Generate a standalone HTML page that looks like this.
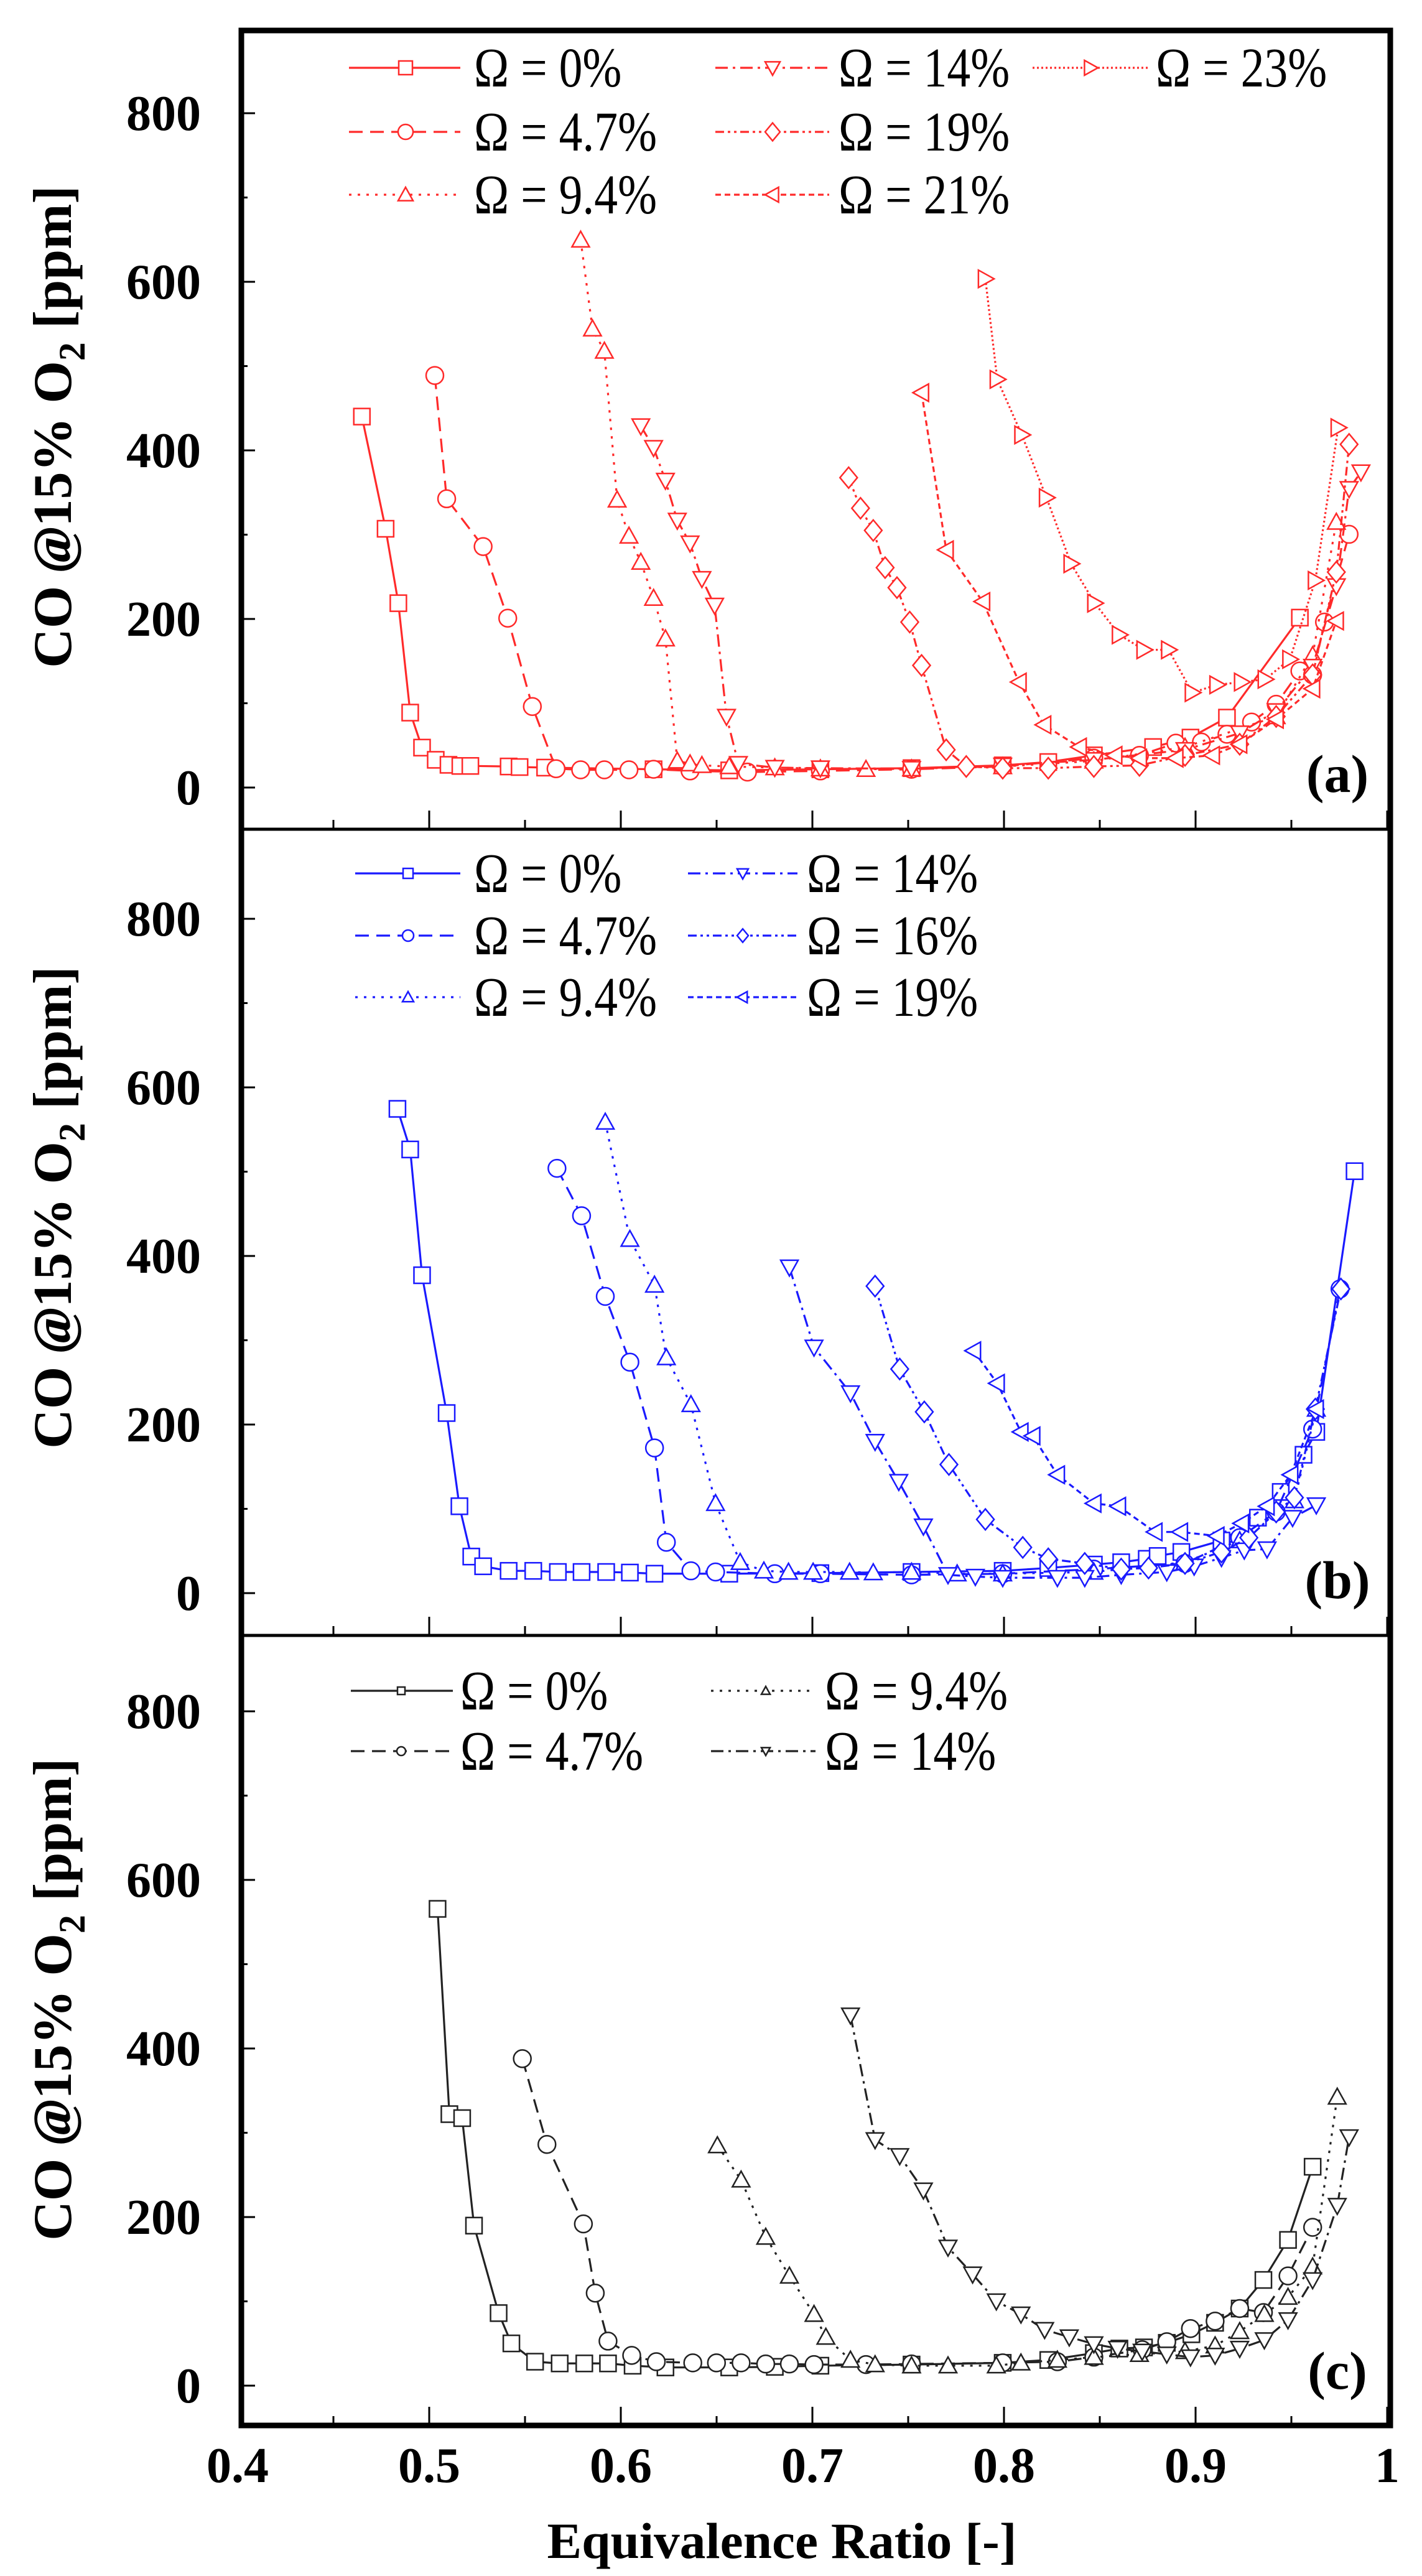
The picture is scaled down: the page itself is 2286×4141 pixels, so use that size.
<!DOCTYPE html>
<html><head><meta charset="utf-8"><style>
html,body{margin:0;padding:0;background:#fff}
svg{display:block}
svg text{font-family:"Liberation Serif","Times New Roman","Noto Serif CJK SC","DejaVu Serif",serif}
</style></head><body>
<svg id="s" xmlns="http://www.w3.org/2000/svg" width="2286" height="4141" viewBox="0 0 2286 4141">
<rect width="2286" height="4141" fill="#fff"/>
<g id="g"></g>
</svg>
<script>
var NS="http://www.w3.org/2000/svg",G=document.getElementById('g');
var FF="'Liberation Serif','Times New Roman','Noto Serif CJK SC','DejaVu Serif',serif";
function el(t,a,p){var e=document.createElementNS(NS,t);for(var k in a)e.setAttribute(k,a[k]);(p||G).appendChild(e);return e;}
function txt(x,y,s,a){var e=el('text',Object.assign({x:x,y:y},a||{}));e.style.fontFamily=FF;e.textContent=s;return e;}
var L=388,R=2235;
function X(phi){return 382+(phi-0.4)*3080;}
var panels=[{top:49,bot:1333,y0:1266,fy:1.12,off:0},{top:1333,bot:2629,y0:2561,fy:1.088,off:1300},{top:2629,bot:3899,y0:3835,fy:1.088,off:2700}];
var S=1.355;
panels.forEach(function(p,i){
  for(var v=0;v<=800;v+=100){var y=p.y0-v*S;if(y<p.top+5)continue;
    el('line',{x1:L,x2:L+(v%200==0?22:10),y1:y,y2:y,stroke:'#000','stroke-width':3});
    if(v%200==0)txt(323,y+27,String(v),{'font-size':80,'font-weight':'bold','text-anchor':'end'});}
  for(var k=0;k<=12;k++){var phi=0.4+k*0.05,x=X(phi);if(x<L+5||x>R-5)continue;
    el('line',{x1:x,x2:x,y1:p.bot,y2:p.bot-(k%2==0?30:15),stroke:'#000','stroke-width':3});}
  var cy=(p.top+p.bot)/2+(i==0?-5:i==1?-40:-50);
  var t=el('text',{transform:'translate(114,'+cy+') rotate(-90)','font-size':88,'font-weight':'bold','text-anchor':'middle'});
  t.style.fontFamily=FF;
  t.appendChild(document.createTextNode('CO '));
  var ti=el('tspan',{'font-style':'italic'},t);ti.textContent='@';
  t.appendChild(document.createTextNode('15% O'));
  var ts=el('tspan',{dy:22,'font-size':60},t);ts.textContent='2';
  var tr=el('tspan',{dy:-22},t);tr.textContent=' [ppm]';
});
[['(a)',1245],['(b)',2541],['(c)',3812]].forEach(function(a){txt(2150,a[1]+28,a[0],{'font-size':86,'font-weight':'bold','text-anchor':'middle'});});
['0.4','0.5','0.6','0.7','0.8','0.9','1'].forEach(function(s,k){txt(X(0.4+k*0.1),3990,s,{'font-size':80,'font-weight':'bold','text-anchor':'middle'});});
txt(1257,4112,'Equivalence Ratio [-]',{'font-size':82,'font-weight':'bold','text-anchor':'middle',textLength:755,lengthAdjust:'spacingAndGlyphs'});
el('rect',{x:L,y:49,width:R-L,height:3899-49,fill:'none',stroke:'#000','stroke-width':9});
el('line',{x1:L,x2:R,y1:1333,y2:1333,stroke:'#000','stroke-width':5});
el('line',{x1:L,x2:R,y1:2629,y2:2629,stroke:'#000','stroke-width':5});
function marker(type,x,y,c,r,g){
  r=r||13;g=g||G;var a={fill:'#fff',stroke:c,'stroke-width':2.5};
  if(type=='sq')return el('rect',Object.assign({x:x-r+1,y:y-r+1,width:2*r-2,height:2*r-2},a),g);
  if(type=='ci')return el('circle',Object.assign({cx:x,cy:y,r:r},a),g);
  var pts;
  if(type=='up')pts=[[x,y-r],[x+r,y+r*0.8],[x-r,y+r*0.8]];
  if(type=='dn')pts=[[x,y+r],[x+r,y-r*0.8],[x-r,y-r*0.8]];
  if(type=='di')pts=[[x,y-r*1.2],[x+r,y],[x,y+r*1.2],[x-r,y]];
  if(type=='lt')pts=[[x-r,y],[x+r*0.8,y-r],[x+r*0.8,y+r]];
  if(type=='rt')pts=[[x+r,y],[x-r*0.8,y-r],[x-r*0.8,y+r]];
  return el('polygon',Object.assign({points:pts.map(function(q){return q.join(',')}).join(' ')},a),g);
}
var D={solid:'',dash:'22 12',dot:'4 10',dd:'20 8 4 8',ddd:'14 6 4 6 4 6',sd:'9 6',fdot:'3 4'};
function series(pi,pts,type,dash,c){
  var p=panels[pi];var P=pts.map(function(q){return [q[0]*1.4654,q[1]/p.fy+p.off];});
  el('polyline',{points:P.map(function(q){return q.join(',')}).join(' '),fill:'none',stroke:c,'stroke-width':3.2,'stroke-dasharray':D[dash]});
  P.forEach(function(q){marker(type,q[0],q[1],c,14);});
}
function legend(x1,x2,xm,xt,y,type,dash,c,label,r){
  el('line',{x1:x1,x2:x2,y1:y,y2:y,stroke:c,'stroke-width':3.2,'stroke-dasharray':D[dash]});
  marker(type,xm,y,c,r||12);
  var t=el('text',{x:xt,y:y+30,'font-size':90,transform:'translate('+xt+',0) scale(0.84,1) translate('+(-xt)+',0)'});
  t.style.fontFamily=FF;
  t.textContent=label;
}
var RED='#ff2a2a',BLU='#1a1aff',BLK='#222';
series(0,[[397,750],[423,952],[437,1086],[450,1283],[463,1346],[478,1368],[492,1377],[505,1379],[516,1379],[558,1380],[570,1381],[598,1382],[717,1385],[800,1387],[900,1385],[1000,1383],[1100,1378],[1150,1372],[1200,1360],[1265,1345],[1306,1328],[1346,1292],[1426,1112]],'sq','solid',RED);
series(0,[[477,676],[490,898],[530,984],[557,1113],[584,1272],[610,1384],[637,1386],[663,1386],[690,1386],[717,1385],[757,1388],[820,1390],[900,1388],[1000,1385],[1100,1380],[1200,1365],[1250,1360],[1290,1338],[1318,1336],[1346,1322],[1373,1300],[1400,1268],[1426,1208],[1440,1215],[1453,1120],[1480,962]],'ci','dash',RED);
series(0,[[637,432],[650,592],[663,632],[677,900],[690,965],[703,1012],[717,1077],[730,1150],[743,1370],[757,1375],[770,1378],[800,1380],[850,1382],[900,1384],[950,1385],[1000,1384],[1100,1380],[1200,1370],[1300,1345],[1400,1290],[1440,1180],[1466,940]],'up','dot',RED);
series(0,[[703,767],[717,806],[730,865],[743,937],[757,978],[770,1042],[784,1090],[797,1290],[810,1375],[850,1382],[900,1383],[1000,1384],[1100,1378],[1200,1368],[1300,1350],[1360,1320],[1400,1280],[1440,1200],[1466,1055],[1480,880],[1493,850]],'dn','dd',RED);
series(0,[[931,860],[944,915],[958,955],[971,1022],[984,1058],[998,1120],[1011,1198],[1038,1350],[1060,1380],[1100,1383],[1150,1383],[1200,1380],[1250,1378],[1300,1360],[1360,1340],[1400,1290],[1440,1215],[1466,1030],[1480,800]],'di','ddd',RED);
series(0,[[1011,707],[1038,990],[1078,1083],[1118,1228],[1145,1305],[1184,1345],[1223,1360],[1250,1365],[1290,1365],[1330,1360],[1360,1340],[1400,1295],[1440,1240],[1466,1118]],'lt','sd',RED);
series(0,[[1081,502],[1094,683],[1121,783],[1148,896],[1175,1015],[1201,1086],[1228,1143],[1255,1170],[1282,1170],[1308,1247],[1335,1233],[1362,1228],[1388,1223],[1415,1187],[1443,1045],[1468,770]],'rt','fdot',RED);
legend(561,740,652,762,109,'sq','solid',RED,'Ω = 0%');
legend(561,740,652,762,212,'ci','dash',RED,'Ω = 4.7%');
legend(561,740,652,762,313,'up','dot',RED,'Ω = 9.4%');
legend(1150,1333,1242,1348,109,'dn','dd',RED,'Ω = 14%');
legend(1150,1333,1242,1348,212,'di','ddd',RED,'Ω = 19%');
legend(1150,1333,1242,1348,313,'lt','sd',RED,'Ω = 21%');
legend(1660,1846,1753,1858,109,'rt','fdot',RED,'Ω = 23%');
series(1,[[436,525],[450,596],[463,816],[490,1057],[504,1220],[517,1308],[530,1325],[558,1333],[585,1333],[612,1335],[638,1335],[665,1335],[691,1336],[718,1338],[800,1338],[900,1337],[1000,1335],[1100,1333],[1150,1328],[1200,1322],[1230,1318],[1258,1312],[1270,1307],[1296,1300],[1340,1280],[1380,1240],[1405,1195],[1430,1130],[1444,1090],[1486,634]],'sq','solid',BLU);
series(1,[[611,629],[638,712],[664,853],[691,968],[718,1118],[731,1283],[758,1333],[785,1335],[850,1338],[900,1338],[1000,1340],[1100,1338],[1200,1330],[1300,1320],[1360,1275],[1400,1230],[1440,1085],[1470,840]],'ci','dash',BLU);
series(1,[[664,548],[691,753],[718,833],[731,960],[758,1042],[785,1215],[812,1318],[838,1333],[865,1335],[892,1335],[932,1335],[958,1336],[1000,1335],[1050,1338],[1100,1338],[1200,1335],[1300,1318],[1360,1280],[1420,1210],[1444,1050]],'up','dot',BLU);
series(1,[[866,802],[893,942],[933,1022],[960,1107],[986,1177],[1013,1255],[1040,1340],[1070,1343],[1100,1345],[1160,1345],[1190,1345],[1230,1340],[1280,1335],[1310,1325],[1340,1310],[1365,1297],[1390,1295],[1418,1240],[1444,1218]],'dn','dd',BLU);
series(1,[[960,835],[987,980],[1014,1055],[1041,1147],[1081,1243],[1122,1292],[1150,1312],[1190,1320],[1230,1330],[1260,1328],[1300,1320],[1340,1300],[1370,1275],[1400,1230],[1420,1205],[1443,1050],[1471,840]],'di','ddd',BLU);
series(1,[[1068,948],[1094,1005],[1120,1090],[1133,1097],[1160,1165],[1200,1215],[1227,1220],[1267,1265],[1295,1265],[1335,1272],[1362,1250],[1390,1220],[1416,1165],[1444,1050]],'lt','sd',BLU);
legend(571,740,656,762,1404,'sq','solid',BLU,'Ω = 0%',9);
legend(571,740,656,762,1504,'ci','dash',BLU,'Ω = 4.7%',9);
legend(571,740,656,762,1603,'up','dot',BLU,'Ω = 9.4%',9);
legend(1106,1282,1194,1297,1404,'dn','dd',BLU,'Ω = 14%',9);
legend(1106,1282,1194,1297,1504,'di','ddd',BLU,'Ω = 16%',9);
legend(1106,1282,1194,1297,1603,'lt','sd',BLU,'Ω = 19%',9);
series(2,[[480,401],[493,760],[507,767],[520,955],[547,1108],[561,1161],[587,1193],[614,1196],[641,1196],[667,1196],[694,1200],[730,1203],[800,1203],[850,1202],[900,1200],[1000,1198],[1100,1195],[1150,1190],[1200,1178],[1228,1170],[1255,1168],[1280,1160],[1307,1145],[1333,1125],[1360,1100],[1386,1050],[1413,980],[1440,852]],'sq','solid',BLK);
series(2,[[573,663],[600,813],[640,952],[653,1073],[667,1157],[693,1182],[720,1193],[760,1195],[786,1195],[813,1195],[840,1197],[866,1197],[893,1198],[950,1198],[1000,1197],[1100,1195],[1160,1193],[1200,1185],[1253,1172],[1280,1158],[1306,1135],[1333,1122],[1360,1100],[1386,1107],[1413,1043],[1440,958]],'ci','dash',BLK);
series(2,[[787,815],[813,875],[840,975],[866,1043],[893,1110],[906,1150],[933,1190],[960,1198],[1000,1200],[1040,1200],[1093,1200],[1120,1195],[1160,1190],[1200,1185],[1250,1180],[1300,1175],[1333,1165],[1360,1140],[1387,1110],[1413,1080],[1440,1027],[1467,730]],'up','dot',BLK);
series(2,[[933,587],[960,805],[987,833],[1013,893],[1040,993],[1067,1040],[1093,1087],[1120,1110],[1146,1137],[1173,1150],[1200,1162],[1226,1170],[1253,1175],[1280,1180],[1306,1185],[1333,1182],[1360,1170],[1387,1155],[1413,1120],[1440,1050],[1467,920],[1480,800]],'dn','dd',BLK);
legend(564,728,645,740,2718,'sq','solid',BLK,'Ω = 0%',7);
legend(564,728,645,740,2815,'ci','dash',BLK,'Ω = 4.7%',7);
legend(1143,1311,1231,1326,2718,'up','dot',BLK,'Ω = 9.4%',7);
legend(1143,1311,1231,1326,2815,'dn','dd',BLK,'Ω = 14%',7);
</script>
</body></html>
